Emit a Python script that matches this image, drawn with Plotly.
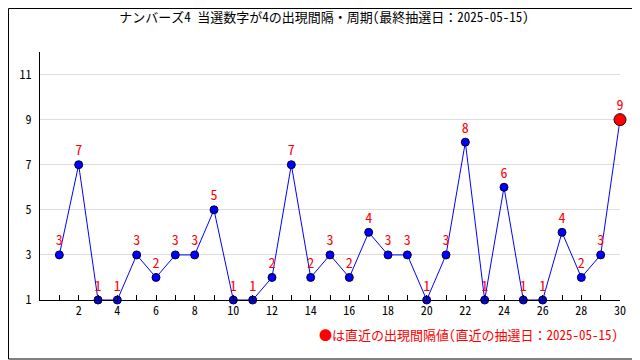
import plotly.graph_objects as go

draws = list(range(1, 31))
intervals = [3, 7, 1, 1, 3, 2, 3, 3, 5, 1, 1, 2, 7, 2, 3, 2, 4, 3, 3, 1,
             3, 8, 1, 6, 1, 1, 4, 2, 3, 9]
x_tick_vals = list(range(2, 31, 2))
y_tick_vals = [1, 3, 5, 7, 9, 11]
title_text = "ナンバーズ4 当選数字が4の出現間隔・周期(最終抽選日：2025-05-15)"
note_text = "●は直近の出現間隔値(直近の抽選日：2025-05-15)"

FONT = "Noto Sans Mono CJK JP, Noto Sans CJK JP, monospace"

# page body has an 8px margin: figure is sized/offset so the plot lands where the reference has it
W, H = 632, 352
ML, MT, MR, MB = 32, 44, 20, 60
PW, PH = W - ML - MR, H - MT - MB

fig = go.Figure()
fig.add_trace(go.Scatter(
    x=draws, y=intervals, mode="lines+markers+text",
    text=[str(v) for v in intervals], textposition="top center",
    textfont=dict(color="red", size=14, family=FONT),
    line=dict(color="blue", width=1),
    marker=dict(color="blue", size=8, line=dict(color="#000033", width=1)),
    cliponaxis=False, showlegend=False, hoverinfo="skip",
))
fig.add_trace(go.Scatter(
    x=draws[-1:], y=intervals[-1:], mode="markers",
    marker=dict(color="red", size=12, line=dict(color="#330000", width=1)),
    cliponaxis=False, showlegend=False, hoverinfo="skip",
))

fig.update_layout(
    width=W, height=H,
    margin=dict(l=ML, r=MR, t=MT, b=MB),
    paper_bgcolor="white", plot_bgcolor="white",
    font=dict(family=FONT, size=12, color="black"),
    title=dict(text=title_text, x=0.5, xanchor="center", y=1 - 9 / H, yanchor="middle",
               font=dict(size=13, family=FONT)),
    xaxis=dict(range=[0, 30], tickvals=x_tick_vals, ticks="inside", ticklen=5,
               tickcolor="black", showline=True, linecolor="black", linewidth=1,
               showgrid=False, zeroline=False, tickfont=dict(size=12),
               minor=dict(dtick=1, tick0=0, ticks="inside", ticklen=5, tickcolor="black")),
    yaxis=dict(range=[1, 12], tickvals=y_tick_vals, ticks="", showline=True,
               linecolor="black", linewidth=1, gridcolor="#dddddd", zeroline=False,
               tickfont=dict(size=12), ticklabelstandoff=5),
    annotations=[dict(text=note_text, xref="paper", yref="paper", x=1, y=-34 / PH,
                      xanchor="right", yanchor="middle", showarrow=False,
                      font=dict(color="red", size=13, family=FONT))],
    shapes=[dict(type="rect", xref="paper", yref="paper",
                 x0=-(ML - 0.5) / PW, x1=1 + (MR - 1) / PW,
                 y0=-(MB - 1) / PH, y1=1 + (MT - 0.5) / PH,
                 line=dict(color="black", width=1))],
)

fig.write_html("out.html")
